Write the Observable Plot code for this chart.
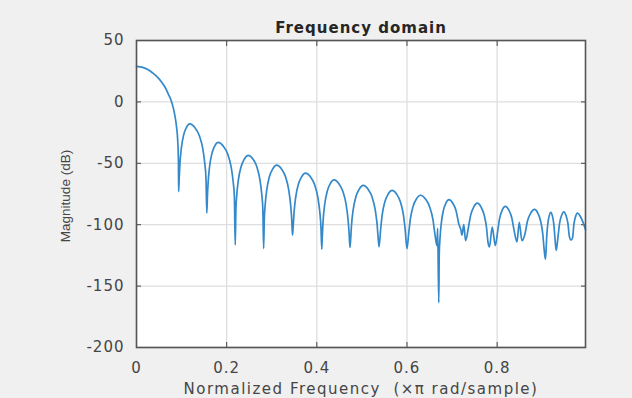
<!DOCTYPE html>
<html>
<head>
<meta charset="utf-8">
<script src="https://cdn.jsdelivr.net/npm/d3@7"></script>
<script src="https://cdn.jsdelivr.net/npm/@observablehq/plot@0.6"></script>
<style>
  html, body { margin: 0; padding: 0; background: #f0f0f0; }
  #chart { width: 632px; height: 398px; }
  #chart svg text { letter-spacing: 1px; }
</style>
</head>
<body>
<div id="chart"></div>
<script>
const titleText = "Frequency domain";
const xLabel = "Normalized Frequency  (\u00d7\u03c0 rad/sample)";
const yLabel = "Magnitude (dB)";
const xTicks = [0, 0.2, 0.4, 0.6, 0.8];
const yTicks = [50, 0, -50, -100, -150, -200];

// normalized frequency (x pi rad/sample)
const freq = [
  0, 0.012, 0.024, 0.036, 0.047, 0.056, 0.064, 0.071, 0.077, 0.082, 0.086, 0.089, 0.0915, 0.093, 0.0935,
  0.0947, 0.0964, 0.0994, 0.1043, 0.1107, 0.118, 0.1294, 0.1393, 0.1469, 0.1514, 0.1541, 0.156,
  0.1573, 0.159, 0.162, 0.167, 0.1735, 0.181, 0.1924, 0.2023, 0.2099, 0.2144, 0.2171, 0.219,
  0.2205, 0.2225, 0.226, 0.2318, 0.2393, 0.248, 0.2582, 0.267, 0.2738, 0.2779, 0.2803, 0.282,
  0.2835, 0.2855, 0.289, 0.2948, 0.3023, 0.311, 0.3215, 0.3306, 0.3376, 0.3418, 0.3443, 0.346,
  0.3475, 0.3495, 0.353, 0.3588, 0.3663, 0.375, 0.3858, 0.3952, 0.4024, 0.4067, 0.4092, 0.411,
  0.4124, 0.4142, 0.4175, 0.4229, 0.4299, 0.438, 0.4487, 0.4579, 0.465, 0.4692, 0.4717, 0.4735,
  0.475, 0.477, 0.4806, 0.4865, 0.4942, 0.503, 0.5135, 0.5226, 0.5296, 0.5338, 0.5363, 0.538,
  0.5415, 0.545, 0.5508, 0.5583, 0.567, 0.5769, 0.5855, 0.5921, 0.596, 0.600,
  0.6036, 0.6072, 0.6132, 0.621, 0.630, 0.6409, 0.6504, 0.6577, 0.6621, 0.6665, 0.668, 0.6705,
  0.6716, 0.6732, 0.6759, 0.6804, 0.6863, 0.693, 0.7017, 0.7092, 0.715, 0.7195, 0.722, 0.726, 0.730,
  0.7362, 0.7414, 0.7482, 0.756, 0.7641, 0.7711, 0.7765, 0.7798, 0.783, 0.789, 0.796,
  0.8013, 0.8057, 0.8114, 0.818, 0.8258, 0.8326, 0.8378, 0.844, 0.849, 0.855,
  0.8617, 0.8673, 0.8746, 0.883, 0.8902, 0.8964, 0.9012, 0.9041, 0.907,
  0.9084, 0.9099, 0.9123, 0.9154, 0.919, 0.9226, 0.9257, 0.9281, 0.931,
  0.9351, 0.9385, 0.9429, 0.948, 0.9528, 0.957, 0.9602, 0.964,
  0.9674, 0.9702, 0.9738, 0.978, 0.985, 0.991, 0.996
];

// magnitude (dB)
const magDb = [
  29, 28.3, 26.5, 23.5, 20, 16, 11.5, 6, 1, -5.5, -13, -21, -32, -48, -73,
  -61.9, -49.9, -37.9, -27.4, -20.9, -17.9, -20.9, -27.4, -37.9, -49.9, -61.9, -90.5,
  -77, -65, -53, -42.5, -36, -33, -36, -42.5, -53, -65, -77, -116.5,
  -87.5, -75.5, -63.5, -53, -46.5, -43.5, -46.5, -53, -63.5, -75.5, -87.5, -119.5,
  -95.5, -83.5, -71.5, -61, -54.5, -51.5, -54.5, -61, -71.5, -83.5, -95.5, -108.5,
  -102, -90, -78, -67.5, -61, -58, -61, -67.5, -78, -90, -102, -120,
  -107.5, -95.5, -83.5, -73, -66.5, -63.5, -66.5, -73, -83.5, -95.5, -107.5, -118.5,
  -112, -100, -88, -77.5, -71, -68, -71, -77.5, -88, -100, -112, -118,
  -104, -92, -81.5, -75, -72, -75, -81.5, -92, -104, -119.5,
  -108, -96, -85.5, -79, -76, -79, -85.5, -96, -108, -117, -103, -163.5,
  -123.5, -111.5, -99.5, -89, -82.5, -79.5, -82.5, -89, -99.5, -104, -108.5, -100, -113,
  -102.5, -92, -85.5, -82.5, -85.5, -92, -102.5, -114.5, -118, -102, -117,
  -105, -94.5, -88, -85, -88, -94.5, -105, -114, -98, -113,
  -107.5, -97, -90.5, -87.5, -90.5, -97, -107.5, -119.5, -128,
  -122, -110, -99.5, -93, -90, -93, -99.5, -110, -121,
  -109.5, -99, -92.5, -89.5, -92.5, -99, -109.5, -112.5,
  -110.5, -100, -93.5, -90.5, -93.5, -98.5, -104
];

const data = freq.map((f, i) => ({f, m: magDb[i]}));

const plot = Plot.plot({
  width: 632,
  height: 398,
  marginLeft: 136,
  marginRight: 47,
  marginTop: 40,
  marginBottom: 51,
  style: {background: "transparent", fontFamily: "DejaVu Sans", fontSize: "15px", color: "#454545", overflow: "visible"},
  x: {domain: [0, 0.996]},
  y: {domain: [-200, 50]},
  marks: [
    Plot.frame({fill: "white", stroke: null}),
    Plot.gridX(xTicks, {stroke: "#dedede", strokeOpacity: 1, strokeWidth: 1.3}),
    Plot.gridY(yTicks, {stroke: "#dedede", strokeOpacity: 1, strokeWidth: 1.3}),
    Plot.axisX(xTicks, {anchor: "bottom", tickSize: -5, tickPadding: 20, label: null, tickFormat: d => String(d)}),
    Plot.axisX(xTicks, {anchor: "top", tickSize: -5, tickFormat: () => "", label: null}),
    Plot.axisY(yTicks, {anchor: "left", tickSize: -5, tickPadding: 17, label: null, tickFormat: d => String(d)}),
    Plot.axisY(yTicks, {anchor: "right", tickSize: -5, tickFormat: () => "", label: null}),
    Plot.line(data, {x: "f", y: "m", stroke: "#3489ca", strokeWidth: 1.7, curve: "monotone-x"}),
    Plot.frame({stroke: "#555555", strokeWidth: 1.6}),
    Plot.text([titleText], {frameAnchor: "top", dy: -12, lineAnchor: "middle", textAnchor: "middle", fontWeight: "bold", fontSize: 15, fill: "#262626"}),
    Plot.text([xLabel], {frameAnchor: "bottom", dy: 42, lineAnchor: "middle", textAnchor: "middle", fontSize: 15, fill: "#454545"}),
    Plot.text([yLabel], {frameAnchor: "left", dx: -71, dy: 2, rotate: -90, lineAnchor: "middle", textAnchor: "middle", fontSize: 13.5, fontFamily: "Liberation Sans", fill: "#454545"})
  ]
});

document.getElementById("chart").appendChild(plot);
d3.select(plot).selectAll("text").filter(function() { return this.textContent === yLabel; })
  .style("letter-spacing", "0px");
d3.select(plot).selectAll("text").filter(function() { return this.textContent === xLabel; })
  .style("letter-spacing", "1.5px");
</script>
</body>
</html>
